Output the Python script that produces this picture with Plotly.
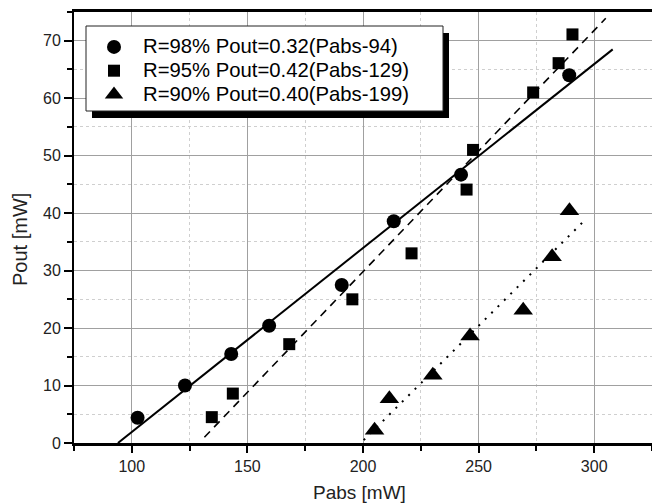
import plotly.graph_objects as go

# ---- data ----
r98_x = [102.5, 123, 143, 159.4, 190.8, 213.3, 242.4, 289.2]
r98_y = [4.4, 10.0, 15.5, 20.4, 27.5, 38.6, 46.7, 64.0]

r95_x = [134.6, 143.7, 168.1, 195.4, 221.0, 244.8, 247.6, 273.6, 284.6, 290.6]
r95_y = [4.5, 8.6, 17.2, 25.0, 33.0, 44.1, 51.0, 61.0, 66.1, 71.1]

r90_x = [205.0, 211.4, 230.2, 246.3, 269.3, 281.8, 289.3]
r90_y = [2.2, 7.7, 11.8, 18.6, 23.1, 32.4, 40.4]

fit98_x = [94, 308]
fit98_y = [0.0, 68.5]
fit95_x = [131.4, 305]
fit95_y = [1.0, 73.9]
fit90_x = [200.3, 296]
fit90_y = [0.5, 38.8]

names = ["R=98% Pout=0.32(Pabs-94)",
         "R=95% Pout=0.42(Pabs-129)",
         "R=90% Pout=0.40(Pabs-199)"]

x_ticks = [100, 150, 200, 250, 300]
y_ticks = [0, 10, 20, 30, 40, 50, 60, 70]

x_title = "Pabs [mW]"
y_title = "Pout [mW]"

FONT = "Liberation Sans, Arial, sans-serif"


def big(s):
    return '<span style="font-size:20.3px">' + s + '</span>'


fig = go.Figure()

fig.add_trace(go.Scatter(x=fit98_x, y=fit98_y, mode="lines",
                         line=dict(color="black", width=2), showlegend=False, hoverinfo="skip"))
fig.add_trace(go.Scatter(x=fit95_x, y=fit95_y, mode="lines",
                         line=dict(color="black", width=1.6, dash="8px,6px"), showlegend=False, hoverinfo="skip"))
fig.add_trace(go.Scatter(x=fit90_x, y=fit90_y, mode="lines",
                         line=dict(color="black", width=2, dash="2px,7px"), showlegend=False, hoverinfo="skip"))

fig.add_trace(go.Scatter(x=r98_x, y=r98_y, mode="markers", name=big(names[0]),
                         marker=dict(symbol="circle", size=14, color="black")))
fig.add_trace(go.Scatter(x=r95_x, y=r95_y, mode="markers", name=big(names[1]),
                         marker=dict(symbol="square", size=12, color="black")))
fig.add_trace(go.Scatter(x=r90_x, y=r90_y, mode="markers", name=big(names[2]),
                         marker=dict(symbol="triangle-up", size=17, color="black")))

L, R, T, B = 74, 0, 12, 61
W, H = 652, 504
pw, ph = W - L - R, H - T - B


def px2paper(px, py):
    return (px - L) / pw, (H - B - py) / ph


# legend box with shadow
bx0, by0 = px2paper(86, 26)
bx1, by1 = px2paper(443, 111)
sx0, sy0 = px2paper(92, 33)
sx1, sy1 = px2paper(449, 118)

shapes = [
    dict(type="rect", xref="paper", yref="paper", x0=sx0, x1=sx1, y0=sy1, y1=sy0,
         fillcolor="black", line=dict(width=0), layer="above"),
    dict(type="rect", xref="paper", yref="paper", x0=bx0, x1=bx1, y0=by1, y1=by0,
         fillcolor="white", line=dict(color="#222", width=1), layer="above"),
]

lx, ly = px2paper(85, 30)
tx, ty = px2paper(20, 240)
ax_, ay_ = px2paper(359, 492)

annotations = [
    dict(text=y_title, xref="paper", yref="paper", x=tx, y=ty, xanchor="center", yanchor="middle",
         textangle=-90, showarrow=False, font=dict(size=20, family=FONT, color="#222")),
    dict(text=x_title, xref="paper", yref="paper", x=ax_, y=ay_, xanchor="center", yanchor="middle",
         showarrow=False, font=dict(size=19, family=FONT, color="#222")),
]

fig.update_layout(
    width=W, height=H,
    margin=dict(l=L, r=R, t=T, b=B),
    paper_bgcolor="white", plot_bgcolor="white",
    font=dict(family=FONT, color="#222", size=16),
    shapes=shapes,
    annotations=annotations,
    showlegend=True,
    legend=dict(x=lx, y=ly, xanchor="left", yanchor="top",
                bgcolor="rgba(0,0,0,0)", borderwidth=0,
                font=dict(family=FONT, size=16, color="black"),
                itemwidth=48, tracegroupgap=0),
    xaxis=dict(
        range=[75, 325], tickvals=x_ticks, ticktext=[str(v) for v in x_ticks],
        showline=True, linecolor="black", linewidth=2.5, mirror=True,
        ticks="outside", ticklen=7, tickwidth=1.5, tickcolor="black",
        showgrid=True, gridcolor="#a0a0a0", gridwidth=1,
        minor=dict(dtick=25, tick0=75, ticks="outside", ticklen=5, tickwidth=1.5, tickcolor="black",
                   showgrid=True, gridcolor="#cfcfcf", griddash="dot", gridwidth=1),
        zeroline=False,
        tickfont=dict(size=16, family=FONT, color="#222"),
    ),
    yaxis=dict(
        range=[0, 75], tickvals=y_ticks, ticktext=[str(v) for v in y_ticks],
        showline=True, linecolor="black", linewidth=2, mirror=False,
        ticks="outside", ticklen=8, tickwidth=1.5, tickcolor="black",
        showgrid=True, gridcolor="#a0a0a0", gridwidth=1,
        minor=dict(dtick=5, tick0=0, ticks="outside", ticklen=5, tickwidth=1.5, tickcolor="black",
                   showgrid=True, gridcolor="#cfcfcf", griddash="dot", gridwidth=1),
        zeroline=False,
        tickfont=dict(size=16, family=FONT, color="#222"),
    ),
)

fig.write_html("out.html", config={"displayModeBar": False},
               post_script="document.body.style.margin='0';document.body.style.overflow='hidden';")
